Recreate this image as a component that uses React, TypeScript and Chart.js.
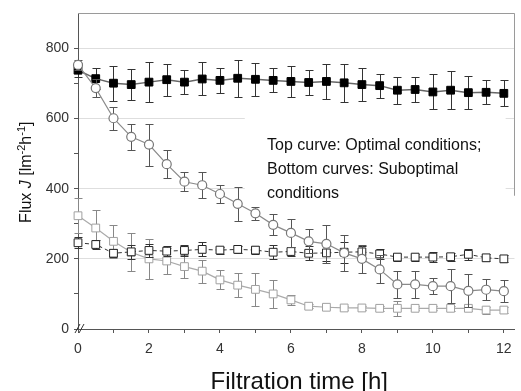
import { useEffect, useRef } from 'react';
import { Chart, registerables } from 'chart.js';
Chart.register(...registerables);

const times = [0, 0.5, 1, 1.5, 2, 2.5, 3, 3.5, 4, 4.5, 5, 5.5, 6, 6.5, 7, 7.5, 8, 8.5, 9, 9.5, 10, 10.5, 11, 11.5, 12];

const optimal = [738, 714, 701, 697, 704, 711, 704, 713, 709, 715, 712, 709, 706, 703, 706, 702, 697, 694, 681, 683, 676, 681, 674, 675, 672];
const optimalErr = [20, 30, 50, 45, 57, 46, 35, 47, 35, 53, 47, 34, 43, 35, 50, 54, 48, 34, 38, 36, 50, 54, 47, 34, 37];

const subCircle = [753, 687, 601, 548, 526, 470, 420, 410, 385, 357, 330, 297, 274, 250, 243, 217, 200, 170, 127, 127, 122, 122, 109, 112, 108];
const subCircleErr = [15, 25, 33, 38, 60, 40, 27, 37, 25, 49, 18, 30, 41, 34, 54, 52, 40, 40, 39, 38, 23, 48, 47, 30, 32];

const subDashed = [246, 241, 216, 220, 224, 222, 224, 227, 225, 227, 225, 219, 221, 216, 217, 219, 220, 214, 205, 205, 205, 206, 213, 203, 200];
const subDashedErr = [15, 14, 12, 20, 18, 15, 16, 20, 10, 10, 12, 20, 12, 20, 22, 30, 18, 15, 10, 10, 14, 12, 15, 10, 10];

const subGray = [323, 288, 250, 219, 200, 194, 178, 165, 140, 125, 113, 100, 83, 65, 62, 60, 60, 59, 59, 59, 59, 59, 59, 54, 54];
const subGrayErr = [50, 52, 48, 55, 58, 38, 33, 33, 27, 35, 46, 39, 15, 6, 5, 6, 6, 8, 22, 6, 6, 8, 8, 10, 8];

const xTitle = 'Filtration time [h]';
const noteLines = ['Top curve: Optimal conditions;', 'Bottom curves: Suboptimal', 'conditions'];

const FONT = '"Liberation Sans", Arial, sans-serif';

const toPts = (vals: number[]) => times.map((t, i) => ({ x: t, y: vals[i] }));

const errorBarPlugin = {
  id: 'errorBars',
  beforeDatasetDraw(chart: any, args: any) {
    const ds: any = chart.data.datasets[args.index];
    const errs: number[] = ds.errors;
    if (!errs) return;
    const ys = chart.scales.y;
    const ctx = chart.ctx;
    ctx.save();
    ctx.strokeStyle = ds.errColor;
    ctx.lineWidth = 1;
    args.meta.data.forEach((pt: any, i: number) => {
      const v = ds.data[i].y;
      const x = Math.round(pt.x) + 0.5;
      const top = Math.round(ys.getPixelForValue(v + errs[i])) + 0.5;
      const bot = Math.round(ys.getPixelForValue(v - errs[i])) + 0.5;
      ctx.beginPath();
      ctx.moveTo(x, top); ctx.lineTo(x, bot);
      ctx.moveTo(x - 4, top); ctx.lineTo(x + 4, top);
      ctx.moveTo(x - 4, bot); ctx.lineTo(x + 4, bot);
      ctx.stroke();
    });
    ctx.restore();
  },
};

const decorPlugin = {
  id: 'decor',
  beforeDatasetsDraw(chart: any) {
    const { ctx, scales } = chart;
    const x0 = scales.x.getPixelForValue(4.7);
    const x1 = scales.x.getPixelForValue(12.05);
    const y0 = scales.y.getPixelForValue(650);
    const y1 = scales.y.getPixelForValue(350);
    ctx.save();
    ctx.fillStyle = '#ffffff';
    ctx.fillRect(x0, y0, x1 - x0, y1 - y0);
    ctx.restore();
  },
  afterDraw(chart: any) {
    const { ctx, chartArea: a, scales } = chart;
    ctx.save();
    // frame top & right
    ctx.strokeStyle = '#9a9a9a';
    ctx.lineWidth = 1;
    ctx.beginPath();
    ctx.moveTo(a.left, Math.round(a.top) + 0.5);
    ctx.lineTo(a.right, Math.round(a.top) + 0.5);
    ctx.moveTo(Math.round(a.right) - 0.5, a.top);
    ctx.lineTo(Math.round(a.right) - 0.5, scales.y.getPixelForValue(380));
    ctx.stroke();
    // axis break marks
    ctx.strokeStyle = '#333';
    ctx.beginPath();
    const bx = a.left, by = a.bottom;
    ctx.moveTo(bx - 3, by + 4); ctx.lineTo(bx + 2, by - 5);
    ctx.moveTo(bx + 1, by + 4); ctx.lineTo(bx + 6, by - 5);
    ctx.stroke();
    // note text
    ctx.fillStyle = '#111';
    ctx.font = `16px ${FONT}`;
    ctx.textBaseline = 'alphabetic';
    ctx.textAlign = 'left';
    noteLines.forEach((l, i) => ctx.fillText(l, a.left + 189, a.top + 136.5 + i * 24));
    // x title
    ctx.font = `24px ${FONT}`;
    ctx.textAlign = 'center';
    ctx.fillText(xTitle, (a.left + a.right) / 2 + 3, a.bottom + 59.5);
    // y title with italic J and superscripts
    const parts: [string, string, number][] = [
      ['Flux ', `16px ${FONT}`, 0],
      ['J', `italic 16px ${FONT}`, 0],
      [' [lm', `16px ${FONT}`, 0],
      ['-2', `11px ${FONT}`, -6],
      ['h', `16px ${FONT}`, 0],
      ['-1', `11px ${FONT}`, -6],
      [']', `16px ${FONT}`, 0],
    ];
    let total = 0;
    parts.forEach(([t, f]) => { ctx.font = f; total += ctx.measureText(t).width; });
    ctx.translate(a.left - 47, (a.top + a.bottom) / 2 + 1);
    ctx.rotate(-Math.PI / 2);
    ctx.textAlign = 'left';
    let cx = -total / 2;
    parts.forEach(([t, f, dy]) => {
      ctx.font = f;
      ctx.fillText(t, cx, dy);
      cx += ctx.measureText(t).width;
    });
    ctx.restore();
  },
};

export default function App() {
  const ref = useRef<HTMLCanvasElement | null>(null);
  useEffect(() => {
    document.body.style.margin = '0';
    const canvas = ref.current;
    if (!canvas) return;
    const chart = new Chart(canvas, {
      type: 'line',
      data: {
        datasets: [
          {
            data: toPts(optimal),
            errors: optimalErr,
            errColor: '#333',
            borderColor: '#666',
            borderWidth: 1.5,
            pointStyle: 'rect',
            pointRadius: 5.5,
            pointBackgroundColor: '#000',
            pointBorderColor: '#000',
            pointBorderWidth: 1,
            clip: false,
            order: 2,
          } as any,
          {
            data: toPts(subCircle),
            errors: subCircleErr,
            errColor: '#555',
            borderColor: '#8a8a8a',
            borderWidth: 1.2,
            pointStyle: 'circle',
            pointRadius: 4.5,
            pointBackgroundColor: '#fff',
            pointBorderColor: '#777',
            pointBorderWidth: 1.2,
            clip: false,
            order: 1,
          } as any,
          {
            data: toPts(subDashed),
            errors: subDashedErr,
            errColor: '#333',
            borderColor: '#333',
            borderWidth: 1,
            borderDash: [4, 3],
            pointStyle: 'rect',
            pointRadius: 5.5,
            pointBackgroundColor: '#fff',
            pointBorderColor: '#222',
            pointBorderWidth: 1,
            clip: false,
            order: 3,
          } as any,
          {
            data: toPts(subGray),
            errors: subGrayErr,
            errColor: '#888',
            borderColor: '#aaa',
            borderWidth: 1.2,
            pointStyle: 'rect',
            pointRadius: 5.5,
            pointBackgroundColor: '#fff',
            pointBorderColor: '#a0a0a0',
            pointBorderWidth: 1,
            clip: false,
            order: 4,
          } as any,
        ],
      },
      options: {
        responsive: false,
        animation: false,
        devicePixelRatio: 1,
        layout: { padding: { top: 10, right: 2, left: 0, bottom: 0 } },
        plugins: { legend: { display: false }, tooltip: { enabled: false } },
        scales: {
          x: {
            type: 'linear',
            min: 0,
            max: 12.3,
            ticks: {
              stepSize: 1,
              includeBounds: false,
              autoSkip: false,
              maxRotation: 0,
              padding: 8,
              color: '#333',
              font: { size: 14, family: FONT },
              callback: (v: any) => (v % 2 === 0 ? String(v) : ''),
            },
            grid: { drawOnChartArea: false, tickLength: 4, tickColor: '#555' },
            border: { color: '#555', width: 1 },
            afterFit: (s: any) => { s.height = 62; },
          },
          y: {
            type: 'linear',
            min: 0,
            max: 900,
            ticks: {
              stepSize: 100,
              autoSkip: false,
              padding: 5,
              color: '#333',
              font: { size: 14, family: FONT },
              callback: (v: any) => (v % 200 === 0 && v < 900 ? String(v) : ''),
            },
            grid: {
              color: (c: any) => {
                const v = c.tick ? c.tick.value : 0;
                return v > 0 && v < 900 && v % 200 === 0 ? '#dedede' : 'rgba(0,0,0,0)';
              },
              tickColor: (c: any) => (c.tick && c.tick.value >= 900 ? 'rgba(0,0,0,0)' : '#555'),
              tickLength: 4,
            },
            border: { color: '#555', width: 1 },
            afterFit: (s: any) => { s.width = 78; },
          },
        },
      } as any,
      plugins: [errorBarPlugin, decorPlugin],
    });
    return () => chart.destroy();
  }, []);
  return (
    <div style={{ position: 'absolute', left: 0, top: 0, width: 521, height: 391, background: '#fff' }}>
      <canvas ref={ref} width={521} height={391} style={{ display: 'block' }} />
    </div>
  );
}
